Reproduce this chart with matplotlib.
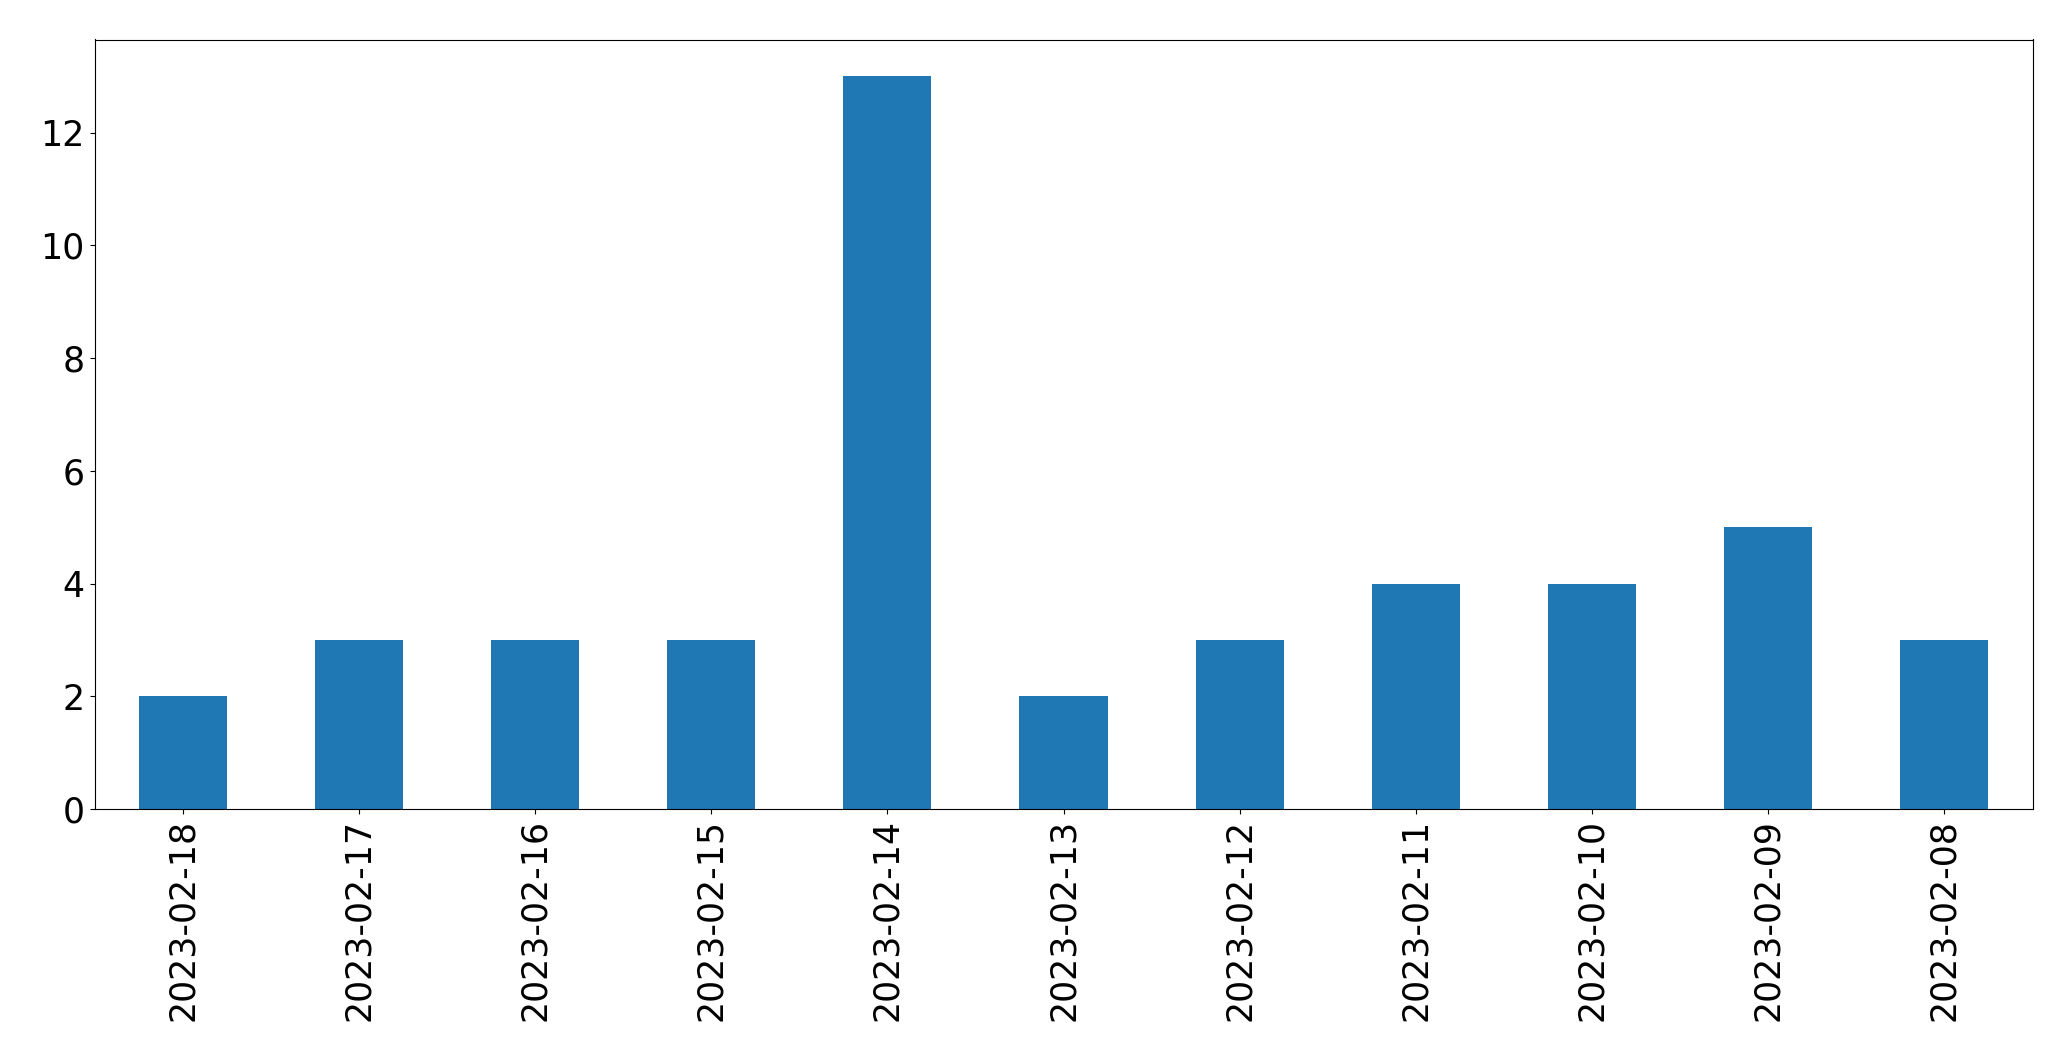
import matplotlib
matplotlib.use("Agg")
import matplotlib.pyplot as plt

# Daily counts, newest first (as in the original plot)
dates = ["2023-02-18", "2023-02-17", "2023-02-16", "2023-02-15", "2023-02-14",
         "2023-02-13", "2023-02-12", "2023-02-11", "2023-02-10", "2023-02-09",
         "2023-02-08"]
counts = [2, 3, 3, 3, 13, 2, 3, 4, 4, 5, 3]

fig = plt.figure(figsize=(20.71, 10.61), dpi=100)
ax = fig.add_axes([94.5 / 2071, 1 - 809 / 1061, (2032.5 - 94.5) / 2071, (809 - 39.5) / 1061])

x = list(range(len(dates)))
ax.bar(x, counts, width=0.5, color="#1f77b4")
ax.set_xlim(-0.5, len(dates) - 0.5)
ax.set_ylim(0, max(counts) * 1.05)
ax.set_xticks(x)
ax.set_xticklabels(dates, rotation=90)
ax.tick_params(axis="both", labelsize=25)

fig.savefig("out.png", dpi=100)
